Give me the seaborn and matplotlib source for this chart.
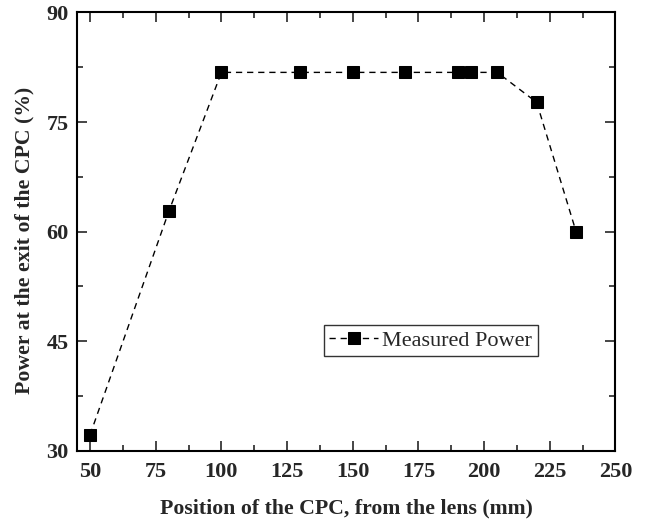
import matplotlib
matplotlib.use('Agg')
import matplotlib.pyplot as plt
import seaborn as sns
import pandas as pd
from matplotlib.ticker import MultipleLocator

# Datos
posicion_mm = [50, 80, 100, 130, 150, 170, 190, 195, 205, 220, 235]
potencia_pct = [32.2, 62.8, 81.8, 81.8, 81.8, 81.8, 81.8, 81.8, 81.8, 77.7, 60.0]
x_ticks = [50, 75, 100, 125, 150, 175, 200, 225, 250]
y_ticks = [30, 45, 60, 75, 90]

df = pd.DataFrame({'pos': posicion_mm, 'power': potencia_pct})

sns.set_style('ticks')
plt.rcParams['font.family'] = ['Liberation Serif', 'DejaVu Serif']

fig, ax = plt.subplots(figsize=(6.52, 5.2), dpi=100)
fig.subplots_adjust(left=0.118, right=0.944, top=0.976, bottom=0.133)

sns.lineplot(data=df, x='pos', y='power', ax=ax, color='black', linestyle=(0, (4.5, 3.5)),
             linewidth=1.0, marker='s', markersize=8.5, markeredgecolor='black',
             markerfacecolor='black', label='Measured Power', sort=False)

ax.set_xlim(45, 250)
ax.set_ylim(30, 90)
ax.set_xticks(x_ticks)
ax.set_yticks(y_ticks)
ax.xaxis.set_minor_locator(MultipleLocator(12.5))
ax.yaxis.set_minor_locator(MultipleLocator(7.5))
ax.tick_params(which='both', direction='in', top=True, right=True, width=1.2)
ax.tick_params(which='major', length=7, labelsize=16)
ax.tick_params(axis='x', which='major', pad=8)
ax.tick_params(axis='y', which='major', pad=6)
ax.tick_params(which='minor', length=4)
for lab in ax.get_xticklabels() + ax.get_yticklabels():
    lab.set_fontweight('bold')
for s in ax.spines.values():
    s.set_linewidth(1.5)
    s.set_color('black')

ax.set_xlabel('Position of the CPC, from the lens (mm)', fontsize=15.7, fontweight='bold', labelpad=12)
ax.set_ylabel('Power at the exit of the CPC (%)', fontsize=15.7, fontweight='bold')
ax.yaxis.set_label_coords(-0.078, 0.479)

leg = ax.legend(loc='upper left', bbox_to_anchor=(0.458, 0.288), fontsize=16, frameon=True,
                fancybox=False, edgecolor='black', handlelength=2.2, handletextpad=0.2,
                borderpad=0.25, borderaxespad=0)
leg.get_frame().set_linewidth(1.0)

fig.savefig('out.png', dpi=100)
